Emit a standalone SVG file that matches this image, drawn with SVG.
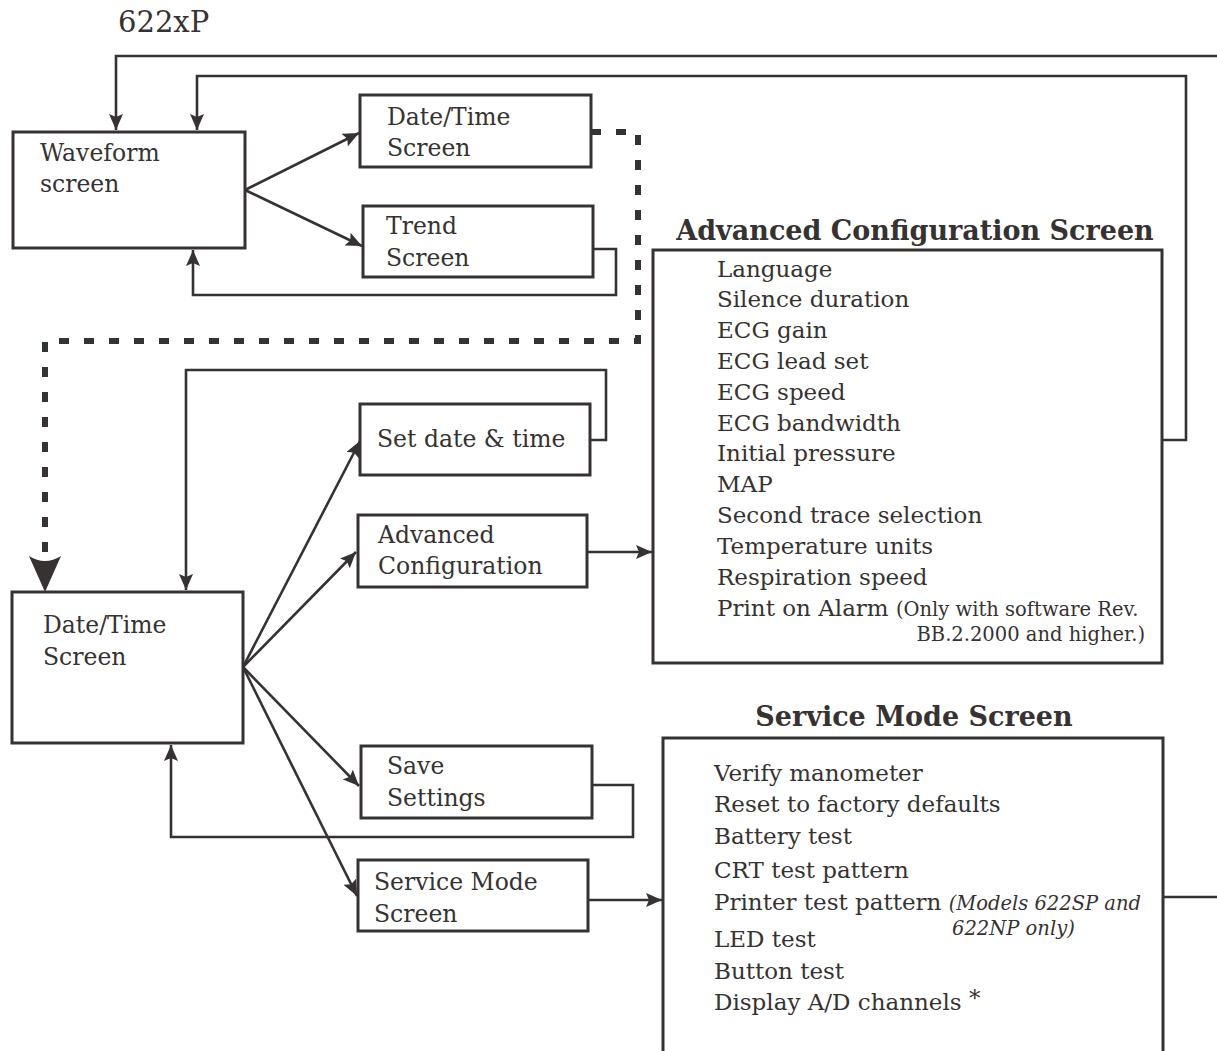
<svg xmlns="http://www.w3.org/2000/svg" width="1217" height="1051" viewBox="0 0 1217 1051">
<style>
  .box { fill: #ffffff; stroke: #363232; stroke-width: 3; }
  .conn { fill: none; stroke: #363232; stroke-width: 2.6; }
  .dash { fill: none; stroke: #363232; stroke-width: 6; stroke-dasharray: 10 15; }
  text { font-family: "DejaVu Serif", "Liberation Serif", serif; fill: #363232; }
  .lbl { font-size: 23.5px; }
  .item { font-size: 23px; }
  .note { font-size: 19.5px; }
  .title { font-size: 27px; font-weight: bold; }
</style>
<defs>
  <marker id="ah" markerUnits="userSpaceOnUse" markerWidth="18" markerHeight="14" refX="16" refY="7" orient="auto">
    <path d="M0,0 L16,7 L0,14 L3,7 z" fill="#363232"/>
  </marker>
</defs>

<text x="118" y="32" font-size="29">622xP</text>

<g id="connectors">
  <path class="conn" d="M1163,897 H1230 V56 H116 V130" marker-end="url(#ah)"/>
  <path class="conn" d="M1162,440 H1186 V76 H197 V130" marker-end="url(#ah)"/>
  <path class="conn" d="M245,190 L359,133" marker-end="url(#ah)"/>
  <path class="conn" d="M245,190 L362,246" marker-end="url(#ah)"/>
  <path class="conn" d="M593,249 H616 V295 H193 V250" marker-end="url(#ah)"/>
  <path class="dash" d="M591,132 H638 V341 H45 V556"/>
  <path d="M29,556 Q45,566 61,556 L45,592 Z" fill="#363232"/>
  <path class="conn" d="M590,440 H606 V370 H186 V590" marker-end="url(#ah)"/>
  <path class="conn" d="M243,667 L360,441" marker-end="url(#ah)"/>
  <path class="conn" d="M243,667 L356,552" marker-end="url(#ah)"/>
  <path class="conn" d="M243,667 L359,786" marker-end="url(#ah)"/>
  <path class="conn" d="M243,667 L357,896" marker-end="url(#ah)"/>
  <path class="conn" d="M592,785 H633 V837 H171 V745" marker-end="url(#ah)"/>
  <path class="conn" d="M587,552 H652" marker-end="url(#ah)"/>
  <path class="conn" d="M588,900 H662" marker-end="url(#ah)"/>
</g>

<g id="waveform">
  <rect class="box" x="13" y="132" width="232" height="116"/>
  <text class="lbl" x="40" y="161">Waveform</text>
  <text class="lbl" x="40" y="192">screen</text>
</g>

<g id="datetime-top">
  <rect class="box" x="360" y="95" width="231" height="72"/>
  <text class="lbl" x="387" y="125">Date/Time</text>
  <text class="lbl" x="387" y="156">Screen</text>
</g>

<g id="trend">
  <rect class="box" x="363" y="206" width="230" height="71"/>
  <text class="lbl" x="386" y="234">Trend</text>
  <text class="lbl" x="386" y="266">Screen</text>
</g>

<g id="datetime-main">
  <rect class="box" x="12" y="592" width="231" height="151"/>
  <text class="lbl" x="43" y="633">Date/Time</text>
  <text class="lbl" x="43" y="665">Screen</text>
</g>

<g id="set-date-time">
  <rect class="box" x="360" y="404" width="230" height="71"/>
  <text class="lbl" x="377" y="447">Set date &amp; time</text>
</g>

<g id="advanced-config">
  <rect class="box" x="358" y="515" width="229" height="72"/>
  <text class="lbl" x="378" y="543">Advanced</text>
  <text class="lbl" x="378" y="574">Configuration</text>
</g>

<g id="save-settings">
  <rect class="box" x="361" y="746" width="231" height="72"/>
  <text class="lbl" x="387" y="774">Save</text>
  <text class="lbl" x="387" y="806">Settings</text>
</g>

<g id="service-mode">
  <rect class="box" x="358" y="860" width="230" height="71"/>
  <text class="lbl" x="374" y="890">Service Mode</text>
  <text class="lbl" x="374" y="922">Screen</text>
</g>

<g id="advanced-config-screen">
  <text class="title" x="915" y="240" text-anchor="middle">Advanced Configuration Screen</text>
  <rect class="box" x="653" y="250" width="509" height="413"/>
  <text class="item" x="717" y="277">Language</text>
  <text class="item" x="717" y="307">Silence duration</text>
  <text class="item" x="717" y="338">ECG gain</text>
  <text class="item" x="717" y="369">ECG lead set</text>
  <text class="item" x="717" y="400">ECG speed</text>
  <text class="item" x="717" y="431">ECG bandwidth</text>
  <text class="item" x="717" y="461">Initial pressure</text>
  <text class="item" x="717" y="492">MAP</text>
  <text class="item" x="717" y="523">Second trace selection</text>
  <text class="item" x="717" y="554">Temperature units</text>
  <text class="item" x="717" y="585">Respiration speed</text>
  <text class="item" x="717" y="616">Print on Alarm <tspan class="note">(Only with software Rev.</tspan></text>
  <text class="note" x="1145" y="641" text-anchor="end">BB.2.2000 and higher.)</text>
</g>

<g id="service-mode-screen">
  <text class="title" x="914" y="726" text-anchor="middle">Service Mode Screen</text>
  <rect class="box" x="663" y="738" width="500" height="330"/>
  <text class="item" x="714" y="781">Verify manometer</text>
  <text class="item" x="714" y="812">Reset to factory defaults</text>
  <text class="item" x="714" y="844">Battery test</text>
  <text class="item" x="714" y="878">CRT test pattern</text>
  <text class="item" x="714" y="910">Printer test pattern <tspan class="note" font-style="italic">(Models 622SP and</tspan></text>
  <text class="note" font-style="italic" x="952" y="935">622NP only)</text>
  <text class="item" x="714" y="947">LED test</text>
  <text class="item" x="714" y="979">Button test</text>
  <text class="item" x="714" y="1010">Display A/D channels <tspan dy="-4">*</tspan></text>
</g>
</svg>
